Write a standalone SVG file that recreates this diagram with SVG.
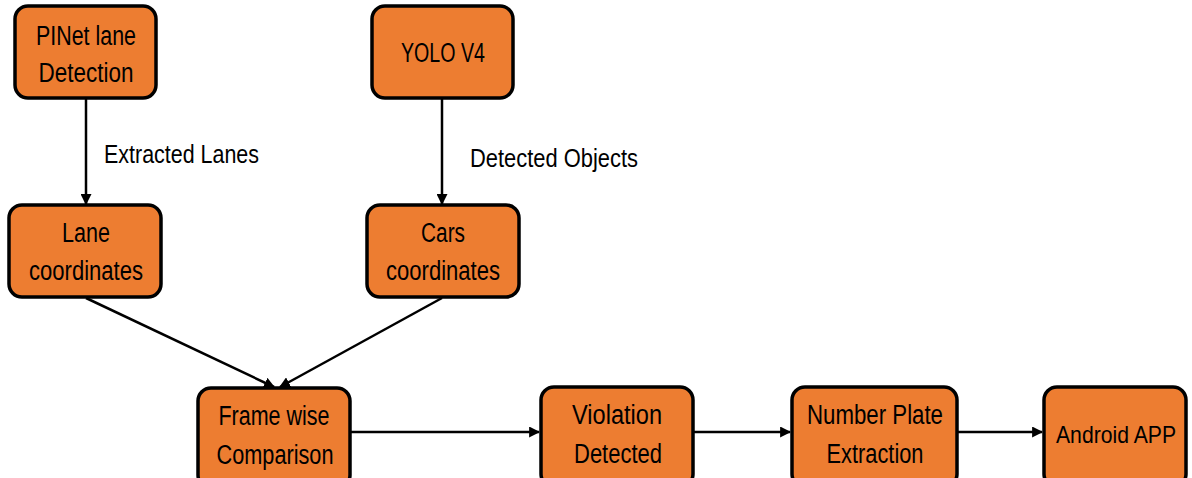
<svg xmlns="http://www.w3.org/2000/svg" width="1192" height="478" viewBox="0 0 1192 478">
  <style>
    .box { fill: #ED7D31; stroke: #000; stroke-width: 3.5; }
    .lbl { font-family: "Liberation Sans", Arial, sans-serif; font-size: 27px; fill: #000; text-anchor: middle; }
    .edge { font-family: "Liberation Sans", Arial, sans-serif; font-size: 25px; fill: #000; }
    .conn { stroke: #000; stroke-width: 2.5; fill: none; marker-end: url(#arrow); }
  </style>
  <defs>
    <marker id="arrow" viewBox="0 0 10 10" refX="9" refY="5" markerWidth="4.4" markerHeight="4.4" orient="auto" markerUnits="strokeWidth">
      <path d="M0,0 L10,5 L0,10 z" fill="#000"/>
    </marker>
  </defs>
  <rect width="1192" height="478" fill="#fff"/>

  <g id="connectors">
    <line class="conn" x1="86" y1="99" x2="86" y2="204"/>
    <line class="conn" x1="442" y1="99" x2="442" y2="204"/>
    <line class="conn" x1="86" y1="298" x2="274" y2="387"/>
    <line class="conn" x1="442" y1="298" x2="280" y2="387"/>
    <line class="conn" x1="351" y1="432" x2="539" y2="432"/>
    <line class="conn" x1="694" y1="432" x2="790" y2="432"/>
    <line class="conn" x1="957" y1="432" x2="1042" y2="432"/>
    <text class="edge" x="104" y="163" textLength="155" lengthAdjust="spacingAndGlyphs">Extracted Lanes</text>
    <text class="edge" x="470" y="167" textLength="168" lengthAdjust="spacingAndGlyphs">Detected Objects</text>
  </g>

  <g id="pinet">
    <rect class="box" x="15" y="6" width="141" height="92" rx="13"/>
    <text class="lbl" x="86" y="45" textLength="100" lengthAdjust="spacingAndGlyphs">PINet lane</text>
    <text class="lbl" x="86" y="82" textLength="95" lengthAdjust="spacingAndGlyphs">Detection</text>
  </g>
  <g id="yolo">
    <rect class="box" x="372" y="6" width="141" height="92" rx="13"/>
    <text class="lbl" x="443" y="62" textLength="84" lengthAdjust="spacingAndGlyphs">YOLO V4</text>
  </g>
  <g id="lane-coords">
    <rect class="box" x="9" y="205" width="152" height="92" rx="13"/>
    <text class="lbl" x="86" y="242" textLength="48" lengthAdjust="spacingAndGlyphs">Lane</text>
    <text class="lbl" x="86" y="280" textLength="114" lengthAdjust="spacingAndGlyphs">coordinates</text>
  </g>
  <g id="cars-coords">
    <rect class="box" x="367" y="205" width="152" height="92" rx="13"/>
    <text class="lbl" x="443" y="242" textLength="44" lengthAdjust="spacingAndGlyphs">Cars</text>
    <text class="lbl" x="443" y="280" textLength="114" lengthAdjust="spacingAndGlyphs">coordinates</text>
  </g>
  <g id="frame-compare">
    <rect class="box" x="198" y="388" width="152" height="100" rx="13"/>
    <text class="lbl" x="274" y="425" textLength="111" lengthAdjust="spacingAndGlyphs">Frame wise</text>
    <text class="lbl" x="275" y="464" textLength="117" lengthAdjust="spacingAndGlyphs">Comparison</text>
  </g>
  <g id="violation">
    <rect class="box" x="541" y="387" width="152" height="100" rx="13"/>
    <text class="lbl" x="617" y="424" textLength="90" lengthAdjust="spacingAndGlyphs">Violation</text>
    <text class="lbl" x="618" y="463" textLength="88" lengthAdjust="spacingAndGlyphs">Detected</text>
  </g>
  <g id="plate">
    <rect class="box" x="792" y="387" width="165" height="100" rx="13"/>
    <text class="lbl" x="875" y="424" textLength="136" lengthAdjust="spacingAndGlyphs">Number Plate</text>
    <text class="lbl" x="875" y="463" textLength="97" lengthAdjust="spacingAndGlyphs">Extraction</text>
  </g>
  <g id="android">
    <rect class="box" x="1044" y="387" width="142" height="100" rx="13"/>
    <text class="lbl" x="1116" y="443" style="font-size:24px" textLength="120" lengthAdjust="spacingAndGlyphs">Android APP</text>
  </g>
</svg>
